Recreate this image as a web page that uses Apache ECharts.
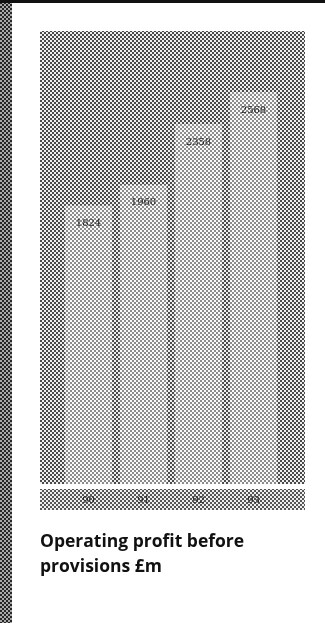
<!DOCTYPE html>
<html>
<head>
<meta charset="utf-8">
<script src="https://cdn.jsdelivr.net/npm/echarts@6/dist/echarts.min.js"></script>
<style>
  html, body { margin: 0; padding: 0; background: #fff; }
  #chart { width: 325px; height: 623px; }
</style>
</head>
<body>
<div id="chart"></div>
<script>
// Operating profit before provisions, £m
const years = ['90', '91', '92', '93'];
const profit = [1824, 1960, 2358, 2568];
const titleLines = ['Operating profit before', 'provisions £m'];

// Small halftone-style tiles used as fills
function dotTile(bg, dot, size, dotSize) {
  const c = document.createElement('canvas');
  c.width = size; c.height = size;
  const g = c.getContext('2d');
  g.fillStyle = bg; g.fillRect(0, 0, size, size);
  g.fillStyle = dot;
  const h = size / 2;
  g.fillRect(0, 0, dotSize, dotSize);
  g.fillRect(h, h, dotSize, dotSize);
  return { image: c, repeat: 'repeat' };
}
const panelFill = dotTile('#eeeeee', '#4a4a4a', 4, 2);
const barFill = dotTile('#fafafa', '#8c8c8c', 4, 2);
const stripFill = dotTile('#eeeeee', '#555555', 4, 2);
const edgeFill = dotTile('#262626', '#a8a8a8', 4, 2);

const chart = echarts.init(document.getElementById('chart'), null, { renderer: 'canvas' });
chart.setOption({
  backgroundColor: '#ffffff',
  animation: false,
  graphic: [
    { type: 'rect', z: -10, shape: { x: 0, y: 0, width: 12, height: 623 }, style: { fill: edgeFill } },
    { type: 'rect', z: -10, shape: { x: 0, y: 0, width: 325, height: 3 }, style: { fill: '#111' } },
    { type: 'rect', z: -10, shape: { x: 40, y: 31, width: 265, height: 453 }, style: { fill: panelFill } },
    { type: 'rect', z: -10, shape: { x: 40, y: 489, width: 265, height: 21 }, style: { fill: stripFill } },
    {
      type: 'text', left: 40, top: 530,
      style: {
        text: titleLines.join('\n'),
        font: 'bold 17.5px "Open Sans", "Noto Sans", sans-serif',
        lineHeight: 25,
        fill: '#111'
      }
    }
  ],
  grid: { left: 61, right: 44, top: 26, bottom: 139, containLabel: false },
  xAxis: {
    type: 'category',
    data: years,
    axisLine: { show: false },
    axisTick: { show: false },
    axisLabel: {
      margin: 11,
      color: '#222',
      fontFamily: '"DejaVu Serif", serif',
      fontSize: 10
    }
  },
  yAxis: {
    type: 'value',
    min: 0,
    max: 3000,
    show: false,
    splitLine: { show: false }
  },
  series: [{
    type: 'bar',
    data: profit,
    barCategoryGap: '14%',
    itemStyle: { color: barFill },
    label: {
      show: true,
      position: 'insideTop',
      distance: 13,
      color: '#222',
      fontFamily: '"DejaVu Serif", serif',
      fontSize: 10
    }
  }]
});
</script>
</body>
</html>
